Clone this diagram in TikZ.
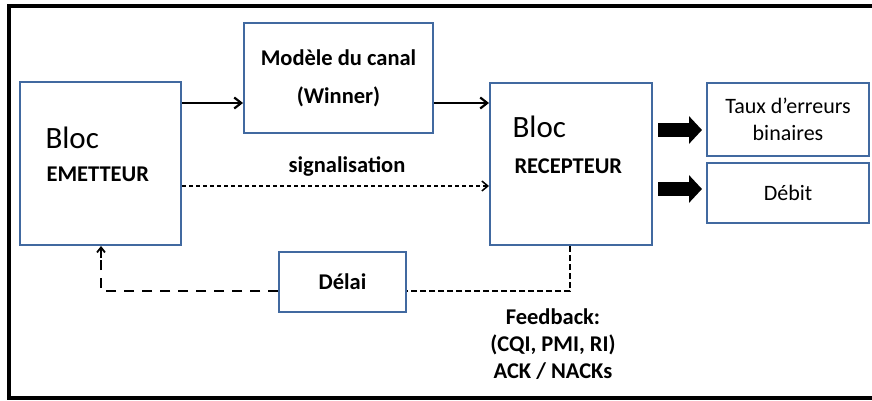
\documentclass[tikz,border=0pt]{standalone}
\usepackage{fontspec}
\setmainfont{Carlito}
\usetikzlibrary{calc,positioning,arrows.meta}
\definecolor{boxblue}{RGB}{65,105,160}
\tikzset{
  bloc/.style={draw=boxblue, line width=2pt, fill=white, inner sep=0pt, align=center},
  txt/.style={font=\fontsize{22}{27}\selectfont},
  txtb/.style={font=\fontsize{22.5}{27}\selectfont\bfseries},
  big/.style={font=\fontsize{31}{34}\selectfont},
  fleche/.style={-{Straight Barb[length=7pt,width=11pt]}, line width=2.2pt},
  signal/.style={-{Straight Barb[length=6pt,width=10pt]}, line width=1.5pt, dash pattern=on 4pt off 3pt},
  retour/.style={line width=2.4pt, dash pattern=on 6pt off 3pt},
  retourlong/.style={line width=2.4pt, dash pattern=on 10pt off 8pt},
  grosse/.style={-{Triangle[length=13pt,width=27pt]}, line width=14pt},
}
\begin{document}
\begin{tikzpicture}[x=1pt, y=-1pt]
\useasboundingbox (0,0) rectangle (872,401);
\draw[line width=3.5pt] (872,6) -- (9,6) -- (9,398) -- (872,398);

\node[bloc, minimum width=161pt, minimum height=163pt] (em) at (100.5,163.5) {};
\node[bloc, minimum width=189pt, minimum height=110pt, txtb] (mod) at (338.5,78) {Modèle du canal\\[11pt](Winner)};
\node[bloc, minimum width=162pt, minimum height=162pt] (rec) at (571,164) {};
\node[bloc, minimum width=162pt, minimum height=73pt, txt] (taux) at (788,119.5) {Taux d’erreurs\\binaires};
\node[bloc, minimum width=162pt, minimum height=60pt, txt] (deb) at (788,193) {Débit};
\node[bloc, minimum width=127pt, minimum height=60pt, txtb] (delai) at (342.5,282) {Délai};

\node[big, anchor=base west] (emB) at ($(em.north west)+(23,67)$) {Bloc};
\node[txtb, anchor=base west] (emT) at ($(em.north west)+(24,100)$) {EMETTEUR};
\node[big, anchor=base west] (recB) at ($(rec.north west)+(20,56)$) {Bloc};
\node[txtb, anchor=base west] (recT) at ($(rec.north west)+(22,91)$) {RECEPTEUR};

\draw[fleche] (em.east |- 0,103) -- (mod.west |- 0,103);
\draw[fleche] (mod.east |- 0,103) -- (rec.west |- 0,103);
\draw[signal] (em.east |- 0,186) -- (rec.west |- 0,186);
\node[txtb] (sig) at (347,166) {signalisation};

\draw[grosse] ($(rec.east |- 0,130)+(5,0)$) -- ($(taux.west |- 0,130)+(-4,0)$);
\draw[grosse] ($(rec.east |- 0,189)+(5,0)$) -- ($(deb.west |- 0,189)+(-4,0)$);

\coordinate (fbR) at (570,291);
\coordinate (fbL) at (101,291);
\draw[retour] (rec.south -| fbR) -- (fbR) -- (delai.east |- fbR);
\draw[retourlong] (delai.west |- fbL) -- (fbL) -- ($(em.south -| fbL)+(0,10)$);
\draw[line width=1.8pt, -{Straight Barb[length=5pt,width=8pt]}] ($(em.south -| fbL)+(0,12)$) -- (em.south -| fbL);

\node[txtb, align=center] (fbtxt) at (553,344) {Feedback:\\(CQI, PMI, RI)\\ACK / NACKs};
\end{tikzpicture}
\end{document}
